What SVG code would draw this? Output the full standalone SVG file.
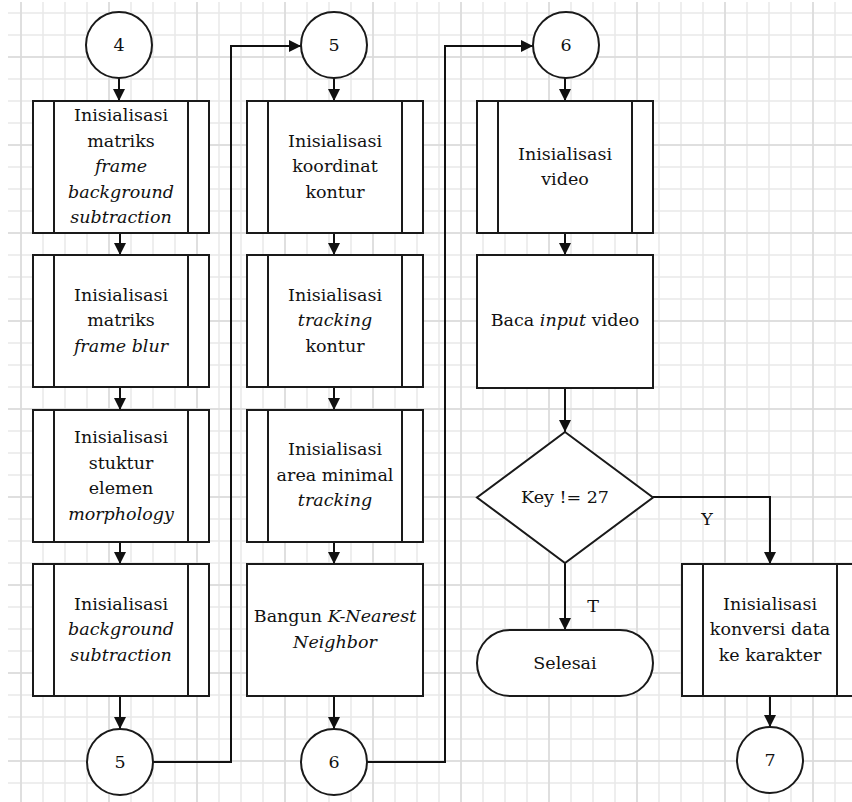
<svg xmlns="http://www.w3.org/2000/svg" width="852" height="802" viewBox="0 0 852 802">
<defs>
<pattern id="gmin" width="22" height="22" patternUnits="userSpaceOnUse" x="10" y="2">
<path d="M11,0 V22 M0,11 H22" stroke="#e9e9e9" stroke-width="1.5" fill="none"/>
</pattern>
<pattern id="gmaj" width="88" height="88" patternUnits="userSpaceOnUse" x="-23" y="13">
<path d="M44,0 V88 M0,44 H88" stroke="#dadada" stroke-width="1.5" fill="none"/>
</pattern>
<marker id="arr" markerUnits="userSpaceOnUse" markerWidth="12" markerHeight="12" viewBox="0 0 10 10" refX="10" refY="5" orient="auto">
<path d="M0,0 L10,5 L0,10 z" fill="#111"/>
</marker>
<style>
.s{fill:#fff;stroke:#1a1a1a;stroke-width:2}
.l{fill:none;stroke:#1a1a1a;stroke-width:2}
.c{fill:none;stroke:#111;stroke-width:2;marker-end:url(#arr)}
text{font-family:"DejaVu Serif","Liberation Serif",serif;font-size:17.5px;fill:#111;text-anchor:middle}
.i{font-style:italic}
</style>
</defs>
<rect width="852" height="802" fill="#fff"/>
<rect x="8" y="2" width="844" height="800" fill="url(#gmin)"/>
<rect x="8" y="2" width="844" height="800" fill="url(#gmaj)"/>

<g id="connectors">
<path class="c" d="M119,78 V101"/>
<path class="c" d="M120,233 V255"/>
<path class="c" d="M120,387 V410"/>
<path class="c" d="M120,542 V564"/>
<path class="c" d="M120,696 V729"/>
<path class="c" d="M153,762 H231 V46 H301"/>
<path class="c" d="M334,78 V101"/>
<path class="c" d="M334,233 V255"/>
<path class="c" d="M334,387 V410"/>
<path class="c" d="M334,542 V564"/>
<path class="c" d="M334,696 V729"/>
<path class="c" d="M367,762 H445 V46 H533"/>
<path class="c" d="M565,78 V101"/>
<path class="c" d="M565,233 V255"/>
<path class="c" d="M565,388 V432"/>
<path class="c" d="M565,563 V630"/>
<path class="c" d="M653,497 H770 V564"/>
<path class="c" d="M770,696 V727"/>
<text x="707" y="525">Y</text>
<text x="593" y="612">T</text>
</g>

<g id="c4"><circle class="s" cx="119" cy="45" r="33"/><text x="119" y="51">4</text></g>
<g id="p1">
<rect class="s" x="33" y="101" width="176" height="132"/><path class="l" d="M54,101 V233 M188,101 V233"/>
<text x="121" y="121">Inisialisasi</text>
<text x="121" y="146.5">matriks</text>
<text x="121" y="172" class="i">frame</text>
<text x="121" y="197.5" class="i">background</text>
<text x="121" y="223" class="i">subtraction</text>
</g>
<g id="p2">
<rect class="s" x="33" y="255" width="176" height="132"/><path class="l" d="M54,255 V387 M188,255 V387"/>
<text x="121" y="300.5">Inisialisasi</text>
<text x="121" y="326">matriks</text>
<text x="121" y="351.5" class="i">frame blur</text>
</g>
<g id="p3">
<rect class="s" x="33" y="410" width="176" height="132"/><path class="l" d="M54,410 V542 M188,410 V542"/>
<text x="121" y="443">Inisialisasi</text>
<text x="121" y="468.5">stuktur</text>
<text x="121" y="494">elemen</text>
<text x="121" y="519.5" class="i">morphology</text>
</g>
<g id="p4">
<rect class="s" x="33" y="564" width="176" height="132"/><path class="l" d="M54,564 V696 M188,564 V696"/>
<text x="121" y="609.5">Inisialisasi</text>
<text x="121" y="635" class="i">background</text>
<text x="121" y="660.5" class="i">subtraction</text>
</g>
<g id="c5a"><circle class="s" cx="120" cy="762" r="33"/><text x="120" y="768">5</text></g>

<g id="c5b"><circle class="s" cx="334" cy="45" r="33"/><text x="334" y="51">5</text></g>
<g id="q1">
<rect class="s" x="247" y="101" width="176" height="132"/><path class="l" d="M268,101 V233 M402,101 V233"/>
<text x="335" y="146.5">Inisialisasi</text>
<text x="335" y="172">koordinat</text>
<text x="335" y="197.5">kontur</text>
</g>
<g id="q2">
<rect class="s" x="247" y="255" width="176" height="132"/><path class="l" d="M268,255 V387 M402,255 V387"/>
<text x="335" y="300.5">Inisialisasi</text>
<text x="335" y="326" class="i">tracking</text>
<text x="335" y="351.5">kontur</text>
</g>
<g id="q3">
<rect class="s" x="247" y="410" width="176" height="132"/><path class="l" d="M268,410 V542 M402,410 V542"/>
<text x="335" y="455">Inisialisasi</text>
<text x="335" y="480.5">area minimal</text>
<text x="335" y="506" class="i">tracking</text>
</g>
<g id="q4">
<rect class="s" x="247" y="564" width="176" height="132"/>
<text x="335" y="622">Bangun <tspan class="i">K-Nearest</tspan></text>
<text x="335" y="647.5" class="i">Neighbor</text>
</g>
<g id="c6a"><circle class="s" cx="334" cy="762" r="33"/><text x="334" y="768">6</text></g>

<g id="c6b"><circle class="s" cx="566" cy="45" r="33"/><text x="566" y="51">6</text></g>
<g id="r1">
<rect class="s" x="477" y="101" width="176" height="132"/><path class="l" d="M498,101 V233 M632,101 V233"/>
<text x="565" y="159.5">Inisialisasi</text>
<text x="565" y="185">video</text>
</g>
<g id="r2">
<rect class="s" x="477" y="255" width="176" height="133"/>
<text x="565" y="326">Baca <tspan class="i">input</tspan> video</text>
</g>
<g id="d1">
<polygon class="s" points="565,432 653,497.5 565,563 477,497.5"/>
<text x="565" y="503">Key != 27</text>
</g>
<g id="t1">
<rect class="s" x="477" y="630" width="176" height="66" rx="33" ry="33"/>
<text x="565" y="669">Selesai</text>
</g>
<g id="r3">
<rect class="s" x="682" y="564" width="176" height="132"/><path class="l" d="M703,564 V696 M837,564 V696"/>
<text x="770" y="609.5">Inisialisasi</text>
<text x="770" y="635">konversi data</text>
<text x="770" y="660.5">ke karakter</text>
</g>
<g id="c7"><circle class="s" cx="770" cy="760" r="33"/><text x="770" y="766">7</text></g>
</svg>
